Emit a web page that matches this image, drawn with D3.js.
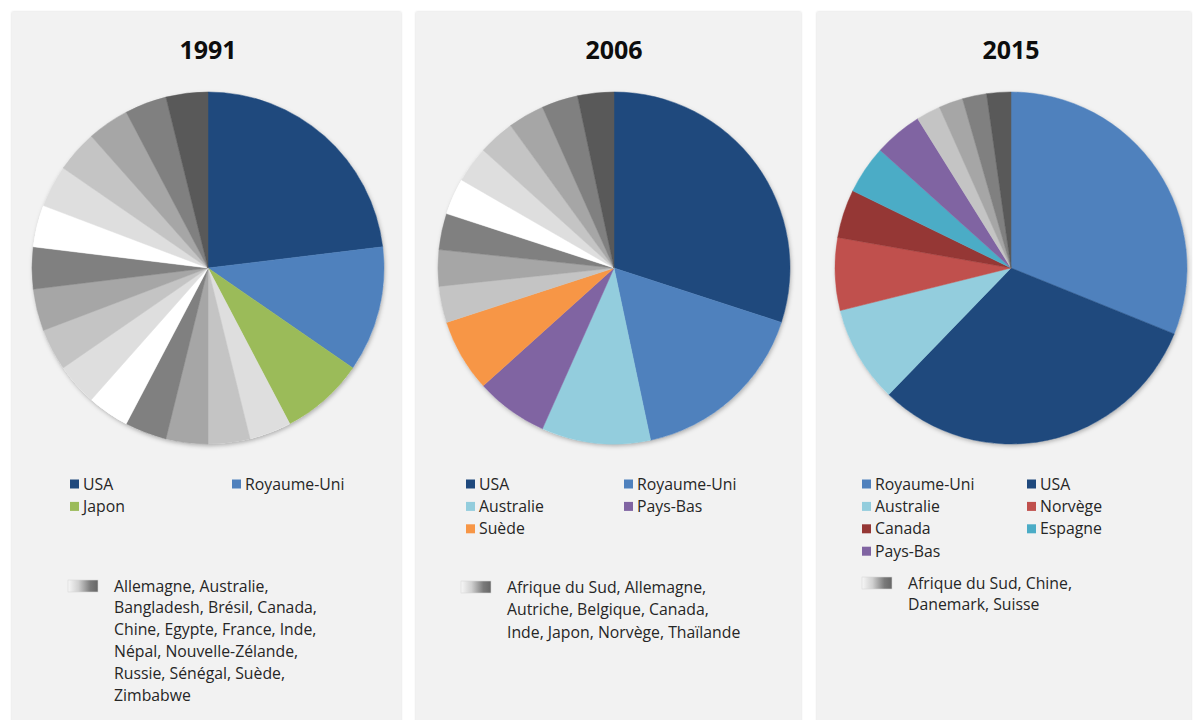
<!DOCTYPE html>
<html>
<head>
<meta charset="utf-8">
<script src="https://cdn.jsdelivr.net/npm/d3@7"></script>
<style>
  body { margin: 0; background: #ffffff; }
  svg { display: block; }
  text { font-family: "Open Sans", Calibri, Carlito, sans-serif; fill: #262626; }
</style>
</head>
<body>
<svg id="chart" width="1193" height="720"></svg>
<script>
//Data (number of entries per country)
const years = ["1991", "2006", "2015"];

const named1991 = ["USA", "Royaume-Uni", "Japon"];
const namedValues1991 = [6, 3, 2];
const others1991 = ["Allemagne", "Australie", "Bangladesh", "Brésil", "Canada", "Chine", "Egypte", "France",
                    "Inde", "Népal", "Nouvelle-Zélande", "Russie", "Sénégal", "Suède", "Zimbabwe"];
const otherValues1991 = [1, 1, 1, 1, 1, 1, 1, 1, 1, 1, 1, 1, 1, 1, 1];
const otherLines1991 = ["Allemagne, Australie,", "Bangladesh, Brésil, Canada,", "Chine, Egypte, France, Inde,",
                        "Népal, Nouvelle-Zélande,", "Russie, Sénégal, Suède,", "Zimbabwe"];

const named2006 = ["USA", "Royaume-Uni", "Australie", "Pays-Bas", "Suède"];
const namedValues2006 = [9, 5, 3, 2, 2];
const others2006 = ["Afrique du Sud", "Allemagne", "Autriche", "Belgique", "Canada", "Inde", "Japon", "Norvège", "Thaïlande"];
const otherValues2006 = [1, 1, 1, 1, 1, 1, 1, 1, 1];
const otherLines2006 = ["Afrique du Sud, Allemagne,", "Autriche, Belgique, Canada,", "Inde, Japon, Norvège, Thaïlande"];

const named2015 = ["Royaume-Uni", "USA", "Australie", "Norvège", "Canada", "Espagne", "Pays-Bas"];
const namedValues2015 = [14, 14, 4, 3, 2, 2, 2];
const others2015 = ["Afrique du Sud", "Chine", "Danemark", "Suisse"];
const otherValues2015 = [1, 1, 1, 1];
const otherLines2015 = ["Afrique du Sud, Chine,", "Danemark, Suisse"];

//Colours
const countryColors = {
    "USA": "#1f497d", "Royaume-Uni": "#4f81bd", "Japon": "#9bbb59", "Australie": "#93cddd",
    "Pays-Bas": "#8064a2", "Suède": "#f79646", "Norvège": "#c0504d", "Canada": "#953735", "Espagne": "#4bacc6"
};
const darkestGray = "#595959";
const grayCycle = ["#808080", "#a6a6a6", "#c4c4c4", "#dedede", "#ffffff"]; //used backwards from the last slice

//Measuring (in px)
const panelX = [12, 416, 817];
const panelW = [389, 385, 374];
const pieX = [208, 614, 1011];
const pieY = 268;
const radius = 176;
const legendX = [70, 466, 862];
const legendCol = [162, 158, 165];
const legendY = 484;
const rowH = 22.4;
const otherY = [586, 587, 583];
const otherTextX = [114, 507, 908];
const otherLineH = [21.8, 22.5, 21.5];

const charts = [
    {named: named1991, namedValues: namedValues1991, others: others1991, otherValues: otherValues1991, lines: otherLines1991},
    {named: named2006, namedValues: namedValues2006, others: others2006, otherValues: otherValues2006, lines: otherLines2006},
    {named: named2015, namedValues: namedValues2015, others: others2015, otherValues: otherValues2015, lines: otherLines2015}
];

const svg = d3.select("#chart");
const defs = svg.append("defs");

//Soft shadows for panels and pies
const panelShadow = defs.append("filter").attr("id", "panelShadow")
    .attr("x", "-5%").attr("y", "-5%").attr("width", "110%").attr("height", "110%");
panelShadow.append("feDropShadow").attr("dx", 0).attr("dy", 0).attr("stdDeviation", 1.2)
    .attr("flood-color", "#000").attr("flood-opacity", 0.18);

const pieShadow = defs.append("filter").attr("id", "pieShadow")
    .attr("x", "-10%").attr("y", "-10%").attr("width", "120%").attr("height", "120%");
pieShadow.append("feDropShadow").attr("dx", 1).attr("dy", 2).attr("stdDeviation", 2)
    .attr("flood-color", "#000").attr("flood-opacity", 0.28);

//Gradient used in the "others" legend swatch
const grad = defs.append("linearGradient").attr("id", "othersGrad");
grad.append("stop").attr("offset", "0%").attr("stop-color", "#f7f7f7");
grad.append("stop").attr("offset", "35%").attr("stop-color", "#d0d0d0");
grad.append("stop").attr("offset", "75%").attr("stop-color", "#7a7a7a");
grad.append("stop").attr("offset", "100%").attr("stop-color", "#666666");

const pie = d3.pie().sort(null).value(d => d.value);
const arc = d3.arc().innerRadius(0).outerRadius(radius);

charts.forEach((chart, i) => {
    //Panel background
    svg.append("rect")
        .attr("x", panelX[i]).attr("y", 12)
        .attr("width", panelW[i]).attr("height", 740)
        .attr("fill", "#f2f2f2")
        .attr("filter", "url(#panelShadow)");

    //Title
    svg.append("text")
        .attr("x", pieX[i]).attr("y", 59)
        .attr("text-anchor", "middle")
        .style("font-size", "25px").style("font-weight", "bold")
        .style("fill", "#0d0d0d")
        .text(years[i]);

    //Slices
    const nOthers = chart.others.length;
    const slices = chart.named.map((name, k) => ({name: name, value: chart.namedValues[k], color: countryColors[name]}))
        .concat(chart.others.map((name, k) => {
            const fromEnd = nOthers - 1 - k;
            const color = fromEnd === 0 ? darkestGray : grayCycle[(fromEnd - 1) % grayCycle.length];
            return {name: name, value: chart.otherValues[k], color: color};
        }));

    const g = svg.append("g")
        .attr("transform", `translate(${pieX[i]},${pieY})`);
    g.append("circle").attr("r", radius).attr("fill", "#ffffff").attr("filter", "url(#pieShadow)");
    g.selectAll("path")
        .data(pie(slices))
        .enter()
        .append("path")
        .attr("d", arc)
        .attr("fill", d => d.data.color)
        .attr("stroke", d => d.data.color)
        .attr("stroke-width", 0.5);

    //Legend for named countries (two columns)
    const items = svg.append("g").selectAll("g")
        .data(chart.named)
        .enter()
        .append("g")
        .attr("transform", (d, k) => `translate(${legendX[i] + (k % 2) * legendCol[i]},${legendY + Math.floor(k / 2) * rowH})`);
    items.append("rect")
        .attr("x", 0).attr("y", -4.5)
        .attr("width", 9).attr("height", 9)
        .attr("fill", d => countryColors[d]);
    items.append("text")
        .attr("x", 13).attr("y", 5.5)
        .style("font-size", "15.8px")
        .text(d => d);

    //Legend for the gray "others"
    svg.append("rect")
        .attr("x", otherTextX[i] - 46).attr("y", otherY[i] - 6)
        .attr("width", 30).attr("height", 12)
        .attr("fill", "url(#othersGrad)")
        .attr("stroke", "#d8d8d8").attr("stroke-width", 0.6);
    svg.append("g").selectAll("text")
        .data(chart.lines)
        .enter()
        .append("text")
        .attr("x", otherTextX[i])
        .attr("y", (d, k) => otherY[i] + 5.5 + k * otherLineH[i])
        .style("font-size", "15.8px")
        .text(d => d);
});
</script>
</body>
</html>
